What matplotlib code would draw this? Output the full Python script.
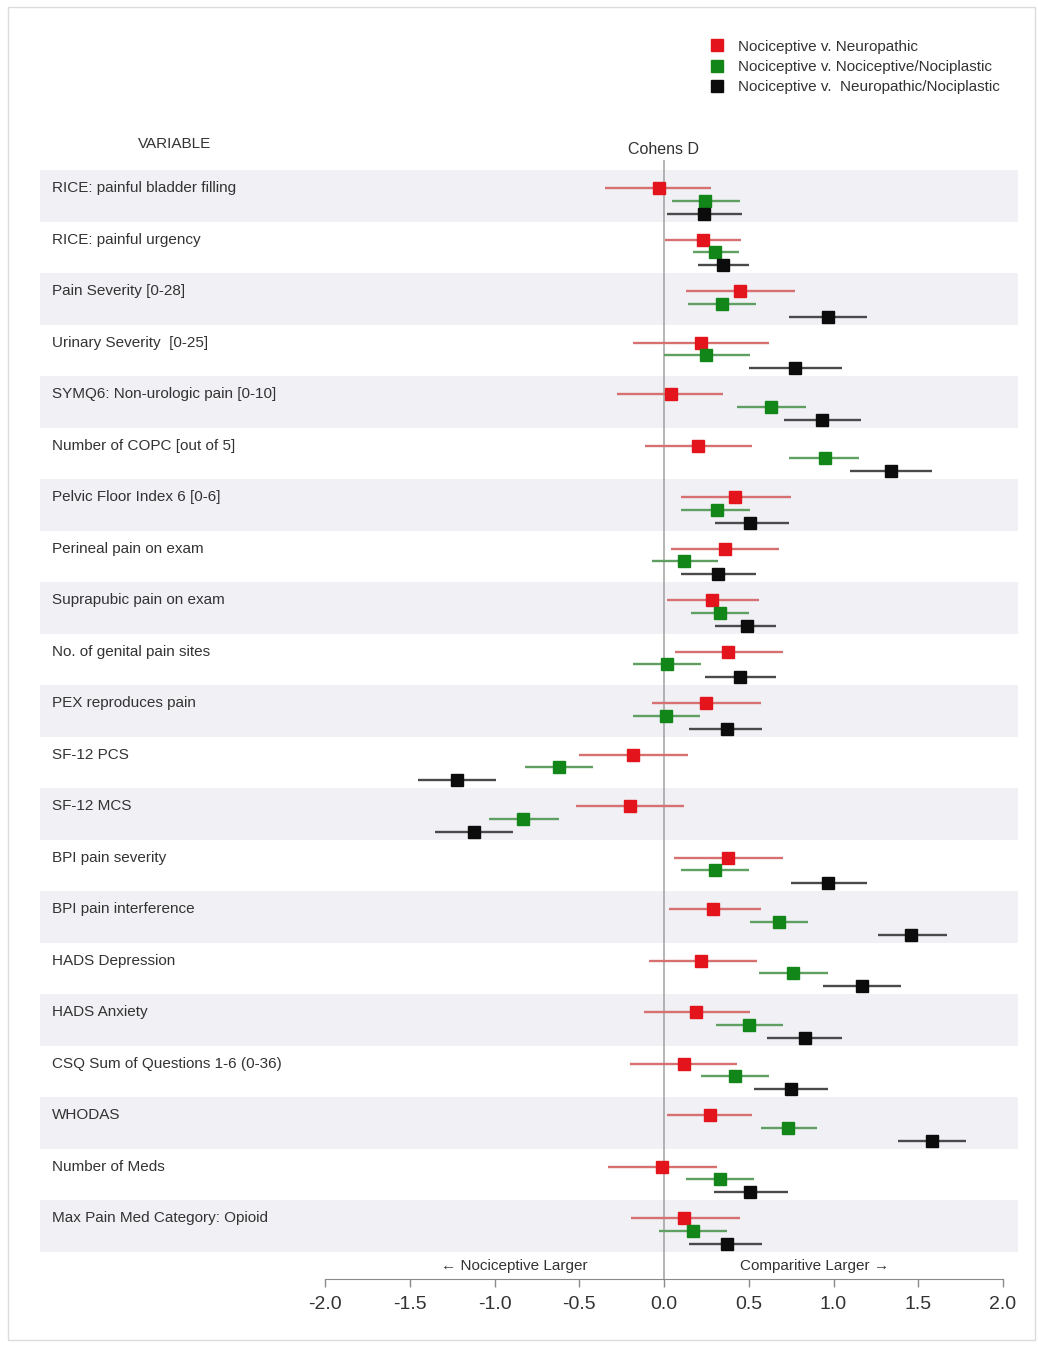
"""Forest plot of Cohen's D by variable, three comparisons"""
import matplotlib
matplotlib.use("Agg")
import matplotlib.pyplot as plt
from matplotlib.lines import Line2D
from matplotlib.patches import Rectangle

plt.rcParams["font.family"] = ["Liberation Sans", "DejaVu Sans"]

VARIABLES = [
    "RICE: painful bladder filling",
    "RICE: painful urgency",
    "Pain Severity [0-28]",
    "Urinary Severity  [0-25]",
    "SYMQ6: Non-urologic pain [0-10]",
    "Number of COPC [out of 5]",
    "Pelvic Floor Index 6 [0-6]",
    "Perineal pain on exam",
    "Suprapubic pain on exam",
    "No. of genital pain sites",
    "PEX reproduces pain",
    "SF-12 PCS",
    "SF-12 MCS",
    "BPI pain severity",
    "BPI pain interference",
    "HADS Depression",
    "HADS Anxiety",
    "CSQ Sum of Questions 1-6 (0-36)",
    "WHODAS",
    "Number of Meds",
    "Max Pain Med Category: Opioid",
]

# Nociceptive v. Neuropathic
neuro_d  = [-0.03, 0.23, 0.45, 0.22, 0.04, 0.20, 0.42, 0.36, 0.285, 0.38, 0.25,
            -0.185, -0.20, 0.38, 0.29, 0.22, 0.19, 0.12, 0.27, -0.01, 0.12]
neuro_lo = [-0.35, 0.005, 0.13, -0.18, -0.28, -0.11, 0.10, 0.04, 0.015, 0.065, -0.07,
            -0.50, -0.52, 0.06, 0.03, -0.09, -0.12, -0.20, 0.015, -0.33, -0.195]
neuro_hi = [0.28, 0.455, 0.77, 0.62, 0.35, 0.52, 0.75, 0.68, 0.56, 0.70, 0.57,
            0.14, 0.12, 0.70, 0.57, 0.55, 0.51, 0.43, 0.52, 0.31, 0.45]

# Nociceptive v. Nociceptive/Nociplastic
noci_d  = [0.24, 0.30, 0.34, 0.25, 0.63, 0.95, 0.31, 0.12, 0.33, 0.02, 0.01,
           -0.62, -0.83, 0.30, 0.68, 0.76, 0.50, 0.42, 0.73, 0.33, 0.17]
noci_lo = [0.045, 0.17, 0.14, 0.0, 0.43, 0.74, 0.10, -0.07, 0.16, -0.18, -0.185,
           -0.82, -1.03, 0.10, 0.51, 0.56, 0.305, 0.22, 0.57, 0.13, -0.03]
noci_hi = [0.45, 0.44, 0.54, 0.51, 0.84, 1.15, 0.51, 0.32, 0.50, 0.22, 0.21,
           -0.42, -0.62, 0.50, 0.85, 0.97, 0.70, 0.62, 0.90, 0.53, 0.37]

# Nociceptive v. Neuropathic/Nociplastic
mixed_d  = [0.236, 0.35, 0.97, 0.77, 0.93, 1.34, 0.51, 0.32, 0.49, 0.45, 0.37,
            -1.22, -1.12, 0.97, 1.46, 1.17, 0.83, 0.75, 1.58, 0.51, 0.37]
mixed_lo = [0.02, 0.20, 0.74, 0.50, 0.71, 1.10, 0.30, 0.10, 0.30, 0.24, 0.15,
            -1.45, -1.35, 0.75, 1.26, 0.94, 0.61, 0.53, 1.38, 0.295, 0.15]
mixed_hi = [0.46, 0.50, 1.20, 1.05, 1.16, 1.58, 0.74, 0.54, 0.66, 0.66, 0.58,
            -0.99, -0.89, 1.20, 1.67, 1.40, 1.05, 0.97, 1.78, 0.73, 0.58]

TICKS = [-2.0, -1.5, -1.0, -0.5, 0.0, 0.5, 1.0, 1.5, 2.0]

GROUPS = [
    ("Nociceptive v. Neuropathic", neuro_d, neuro_lo, neuro_hi, "#e3141b", "#d77070", 0.35),
    ("Nociceptive v. Nociceptive/Nociplastic", noci_d, noci_lo, noci_hi, "#13861a", "#5f9f62", 0.60),
    ("Nociceptive v.  Neuropathic/Nociplastic", mixed_d, mixed_lo, mixed_hi, "#0c0c0c", "#4a4a4a", 0.85),
]

TEXT = "#333333"
BAND = "#f0f0f5"

W, H = 1038, 1345
fig = plt.figure(figsize=(W / 100, H / 100), dpi=100, facecolor="white")

# light frame around the whole graphic
fig.patches.append(Rectangle((8 / W, 1 - 1340 / H), 1027 / W, 1333 / H,
                             transform=fig.transFigure, fill=False,
                             edgecolor="#dcdcdc", linewidth=1))

ax = fig.add_axes([40 / W, 1 - 1279 / H, 978 / W, 1119 / H])
n = len(VARIABLES)
row_px = 51.5
ax.set_xlim((40 - 664) / 169.5, (1018 - 664) / 169.5)
ax.set_ylim((1279 - 170) / row_px, (160 - 170) / row_px)

for i in range(0, n, 2):
    ax.axhspan(i, i + 1, color=BAND, lw=0, zorder=0)

ax.axvline(0, color="#a0a0a0", lw=1.1, zorder=1)

for i, name in enumerate(VARIABLES):
    ax.text(0.012, i + 0.35, name, transform=ax.get_yaxis_transform(),
            ha="left", va="center", fontsize=11, color=TEXT)

for label, d, lo, hi, mcol, lcol, off in GROUPS:
    ys = [i + off for i in range(n)]
    ax.hlines(ys, lo, hi, color=lcol, lw=1.7, zorder=2)
    ax.plot(d, ys, ls="none", marker="s", ms=8, color=mcol,
            markeredgecolor=mcol, zorder=3)

ax.text(-0.45, (1266 - 170) / row_px, "\u2190 Nociceptive Larger",
        ha="right", va="center", fontsize=11, color=TEXT)
ax.text(0.45, (1266 - 170) / row_px, "Comparitive Larger \u2192",
        ha="left", va="center", fontsize=11, color=TEXT)

# x axis only from -2 to 2
for side in ("top", "left", "right"):
    ax.spines[side].set_visible(False)
ax.spines["bottom"].set_bounds(-2, 2)
ax.spines["bottom"].set_color("#8a8a8a")
ax.set_xticks(TICKS)
ax.set_xticklabels([f"{t:.1f}" for t in TICKS])
ax.tick_params(axis="x", direction="out", length=6, width=1, color="#8a8a8a",
               labelsize=14, labelcolor=TEXT, pad=6)
ax.set_yticks([])

fig.text(175 / W, 1 - 144 / H, "VARIABLE", ha="center", va="center",
         fontsize=11, color=TEXT)
fig.text(664 / W, 1 - 150 / H, "Cohens D", ha="center", va="center",
         fontsize=11.5, color=TEXT)

handles = [Line2D([], [], ls="none", marker="s", ms=8, color=g[4]) for g in GROUPS]
fig.legend(handles, [g[0] for g in GROUPS], loc="upper left",
           bbox_to_anchor=(703 / W, 1 - 32 / H), frameon=False, fontsize=11,
           handlelength=0.8, handletextpad=1.0, labelspacing=0.42,
           borderpad=0, labelcolor=TEXT)

fig.savefig("out.png", dpi=100, facecolor="white")
